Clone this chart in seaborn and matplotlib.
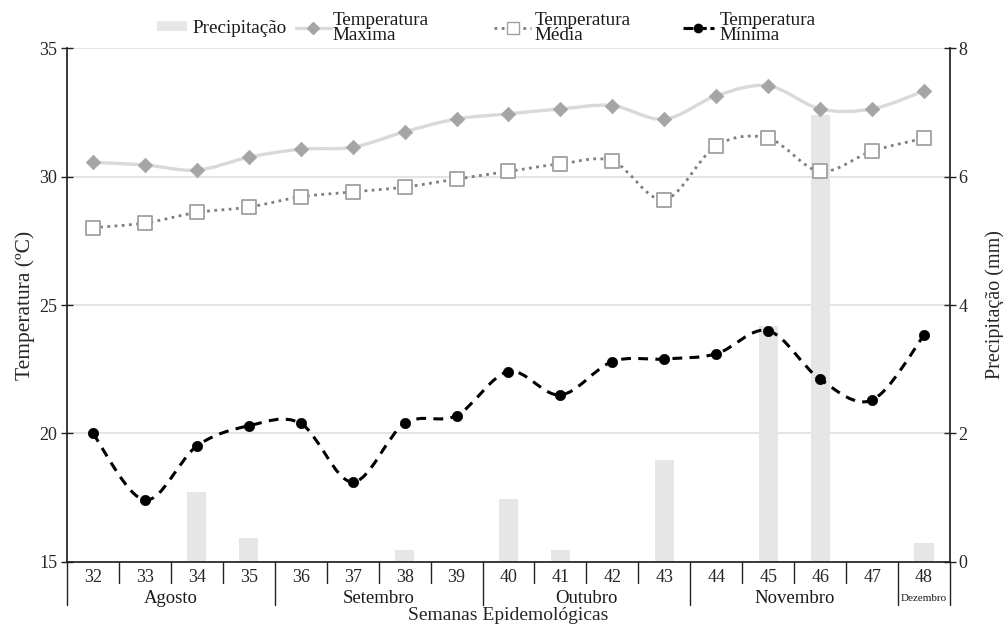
import numpy as np
import pandas as pd
import matplotlib
matplotlib.use("Agg")
import matplotlib.pyplot as plt
import matplotlib.transforms as mtransforms
from matplotlib.path import Path
from matplotlib.patches import PathPatch
from matplotlib.lines import Line2D
import seaborn as sns

# dados
semanas = [32, 33, 34, 35, 36, 37, 38, 39, 40, 41, 42, 43, 44, 45, 46, 47, 48]
meses = ["Agosto", "Setembro", "Outubro", "Novembro", "Dezembro"]
semanas_por_mes = [4, 4, 4, 4, 1]
precipitacao = [0, 0, 1.09, 0.38, 0, 0, 0.19, 0, 0.98, 0.19, 0, 1.59, 0, 3.68, 6.96, 0, 0.29]
temp_max = [30.55, 30.45, 30.25, 30.75, 31.06, 31.14, 31.74, 32.24, 32.44,
            32.63, 32.76, 32.23, 33.14, 33.53, 32.63, 32.63, 33.33]
temp_media = [28.01, 28.19, 28.6, 28.81, 29.21, 29.4, 29.59, 29.9, 30.2,
              30.49, 30.6, 29.1, 31.2, 31.49, 30.2, 30.99, 31.49]
temp_min = [20.0, 17.41, 19.51, 20.3, 20.39, 18.11, 20.39, 20.7, 22.41,
            21.5, 22.8, 22.9, 23.1, 24.0, 22.11, 21.3, 23.82]


def curva_suave(x, y):
    """Caminho Bezier suavizado (estilo Excel) passando pelos pontos."""
    pts = np.column_stack([x, y]).astype(float)
    ext = np.vstack([pts[0], pts, pts[-1]])
    verts = [pts[0]]
    codes = [Path.MOVETO]
    for i in range(1, len(ext) - 2):
        p0, p1, p2, p3 = ext[i - 1], ext[i], ext[i + 1], ext[i + 2]
        verts += [p1 + (p2 - p0) / 6, p2 - (p3 - p1) / 6, p2]
        codes += [Path.CURVE4] * 3
    return Path(verts, codes)


sns.set_theme(style="white")
plt.rcParams["font.family"] = ["Liberation Serif", "DejaVu Serif"]
plt.rcParams["text.color"] = "#1a1a1a"

fig = plt.figure(figsize=(10.04, 6.27), dpi=100)
ax_t = fig.add_axes([0.0667, 0.1037, 0.8795, 0.8197])
ax_p = ax_t.twinx()
ax_t.set_zorder(ax_p.get_zorder() + 1)
ax_t.patch.set_visible(False)

df = pd.DataFrame({"semana": [str(s) for s in semanas], "precipitacao": precipitacao})
sns.barplot(data=df, x="semana", y="precipitacao", color="#e6e6e6", saturation=1,
            width=0.37, linewidth=0, ax=ax_p)
ax_p.set_ylim(0, 8)
ax_p.set_yticks([0, 2, 4, 6, 8])
ax_p.yaxis.grid(True, color="#e2e2e2", lw=1.3)
ax_p.set_axisbelow(True)
ax_p.set_ylabel("Precipitação (mm)", fontsize=14.5, labelpad=13)
ax_p.set_xlabel("")
ax_p.tick_params(axis="y", direction="inout", length=8, width=1, labelsize=13,
                 color="#222222", pad=2)

x = np.arange(len(semanas))
ax_t.add_patch(PathPatch(curva_suave(x, temp_max), fill=False, ec="#d9d9d9", lw=2.4))
ax_t.add_patch(PathPatch(curva_suave(x, temp_media), fill=False, ec="#7f7f7f", lw=2,
                         linestyle=(0, (1, 1.6))))
ax_t.add_patch(PathPatch(curva_suave(x, temp_min), fill=False, ec="black", lw=2.2,
                         linestyle=(0, (3.2, 2.4))))
sns.scatterplot(x=x, y=temp_max, marker="D", s=55, color="#a5a5a5", edgecolor="#a5a5a5",
                linewidth=0.5, ax=ax_t, zorder=4)
sns.scatterplot(x=x, y=temp_media, marker="s", s=110, color="white", edgecolor="#a0a0a0",
                linewidth=1.3, ax=ax_t, zorder=4)
sns.scatterplot(x=x, y=temp_min, marker="o", s=55, color="black", edgecolor="black",
                linewidth=0.5, ax=ax_t, zorder=4)

ax_t.set_xlim(-0.5, len(semanas) - 0.5)
ax_t.set_ylim(15, 35)
ax_t.set_yticks([15, 20, 25, 30, 35])
ax_t.set_xticks(x)
ax_t.set_xticklabels([str(s) for s in semanas])
ax_t.tick_params(axis="x", length=0, labelsize=13, pad=5)
ax_t.tick_params(axis="y", direction="inout", length=8, width=1, labelsize=13,
                 color="#222222", pad=3)
ax_t.set_ylabel("Temperatura (ºC)", fontsize=15.5, labelpad=3)
ax_t.set_xlabel("Semanas Epidemológicas", fontsize=14, labelpad=15)

for a in (ax_t, ax_p):
    a.spines["top"].set_visible(False)
ax_t.spines["right"].set_visible(False)
ax_p.spines["left"].set_visible(False)
ax_p.spines["bottom"].set_visible(False)
ax_t.spines["left"].set_color("#222222")
ax_t.spines["bottom"].set_color("#222222")
ax_p.spines["right"].set_color("#222222")

# separadores das semanas e dos meses abaixo do eixo
trans = mtransforms.blended_transform_factory(ax_t.transData, ax_t.transAxes)
limites = list(np.cumsum([0] + semanas_por_mes) - 0.5)
for k in range(1, len(semanas)):
    b = k - 0.5
    if b in limites:
        continue
    ax_t.plot([b, b], [0, -0.04], transform=trans, color="#222222", lw=1, clip_on=False)
for b in limites:
    ax_t.plot([b, b], [0, -0.083], transform=trans, color="#222222", lw=1, clip_on=False)
for mes, a, b in zip(meses, limites[:-1], limites[1:]):
    ax_t.text((a + b) / 2, -0.072, mes, transform=trans, ha="center", va="center",
              fontsize=13.5 if mes != "Dezembro" else 8)

# legenda (uma caixa por entrada, como no original)
entradas = [
    (Line2D([], [], color="#e6e6e6", lw=7, solid_capstyle="butt"), "Precipitação", 157, 1.55, 0.3),
    (Line2D([], [], color="#d9d9d9", lw=2.4, marker="D", ms=6, mfc="#a5a5a5", mec="#a5a5a5"),
     "Temperatura\nMaxima", 296, 1.8, 0.12),
    (Line2D([], [], color="#7f7f7f", lw=2, linestyle=(0, (1, 1.6)), marker="s", ms=8,
            mfc="white", mec="#a0a0a0"), "Temperatura\nMédia", 494, 1.95, 0.15),
    (Line2D([], [], color="black", lw=2.2, linestyle=(0, (3.2, 1.2)), marker="o", ms=6,
            mfc="black"), "Temperatura\nMínima", 683, 1.6, 0.3),
]
for h, lab, px, hl, tp in entradas:
    leg = fig.legend([h], [lab], loc="center left", bbox_to_anchor=(px / 1004, 1 - 28 / 627),
                     frameon=False, fontsize=13.8, handlelength=hl, handletextpad=tp,
                     borderpad=0, borderaxespad=0)
    for t in leg.get_texts():
        t.set_linespacing(0.82)

fig.savefig("out.png", dpi=100)
